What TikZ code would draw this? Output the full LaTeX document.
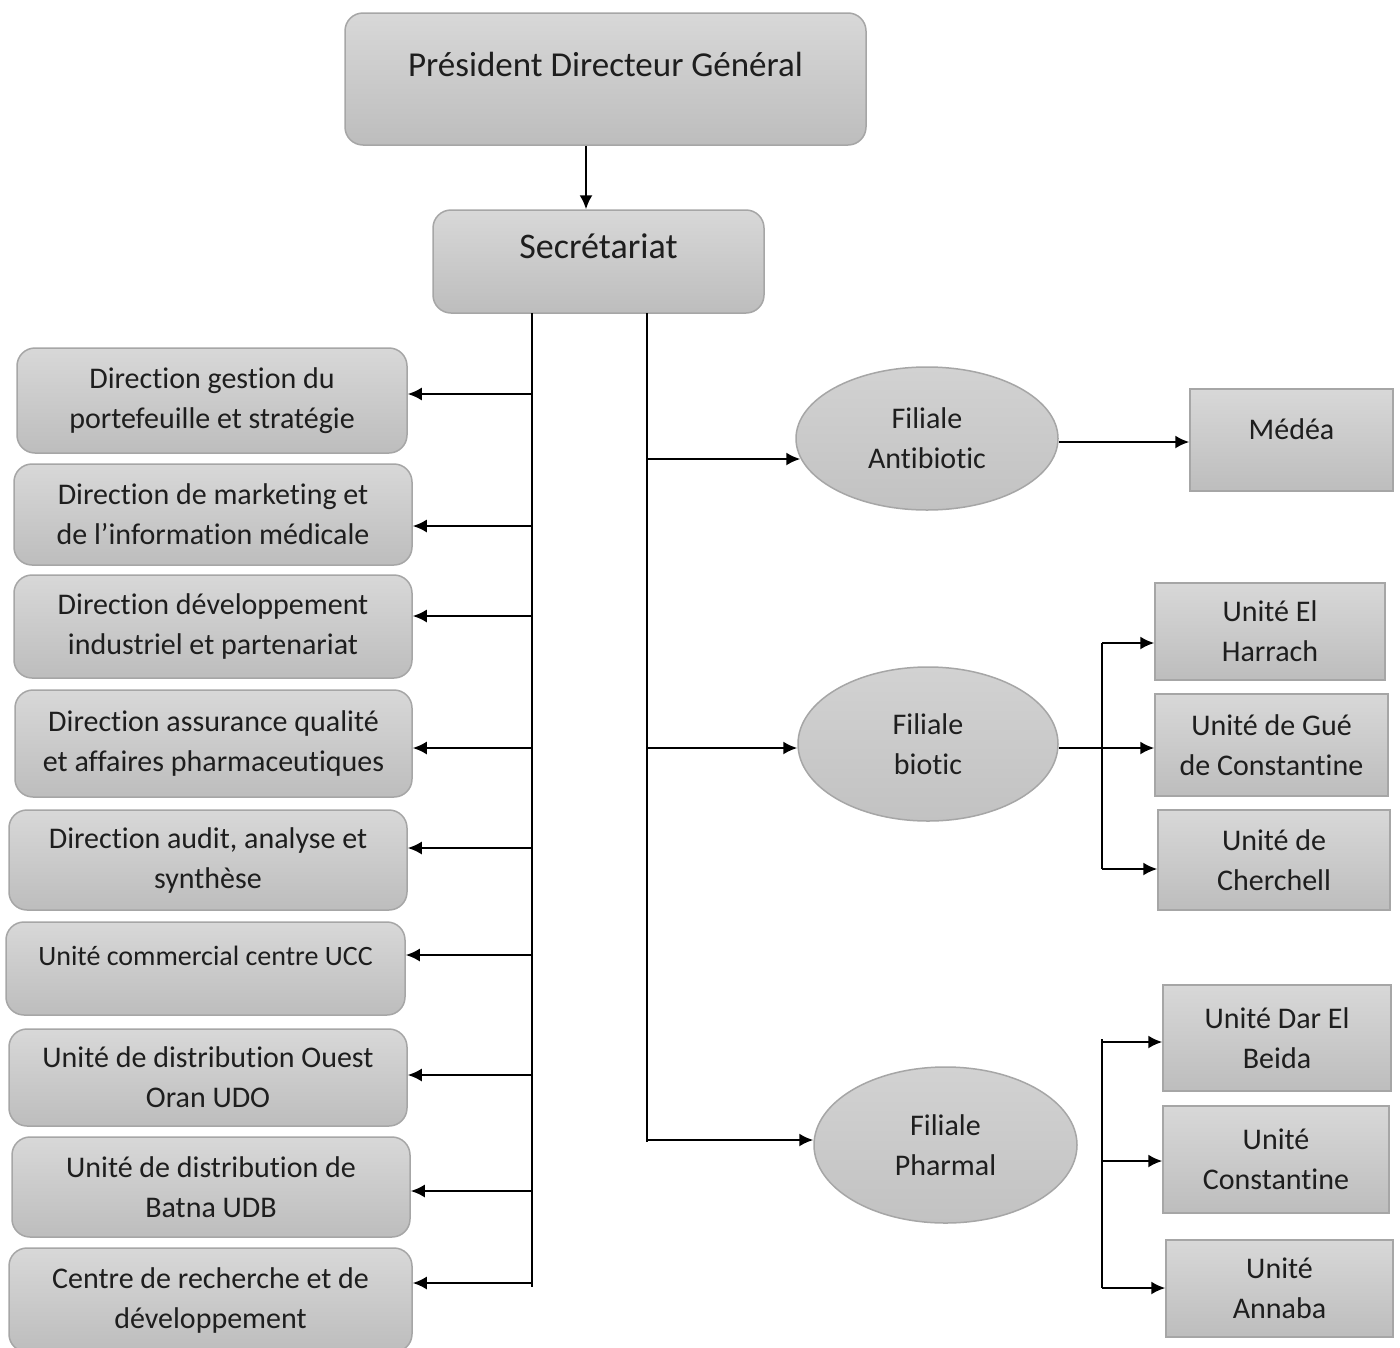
\documentclass[tikz,border=0pt]{standalone}
\usepackage{fontspec}
\setmainfont{Carlito}[Ligatures=NoCommon]
\usetikzlibrary{arrows.meta,shapes.geometric}
\definecolor{boxtop}{HTML}{D8D8D8}
\definecolor{boxbot}{HTML}{BDBDBD}
\definecolor{elltop}{HTML}{D2D2D2}
\definecolor{ellbot}{HTML}{C2C2C2}
\definecolor{edge}{HTML}{A6A6A6}
\definecolor{txt}{HTML}{1E1E1E}
\tikzset{
  x=1pt, y=-1pt,
  base/.style={draw=edge, line width=1.5pt, top color=boxtop, bottom color=boxbot,
    text=txt, align=center, inner sep=3pt,
    font=\fontsize{30}{40}\selectfont},
  rbox/.style={base, rectangle, rounded corners=18pt},
  sbox/.style={base, rectangle},
  ell/.style={base, ellipse, top color=elltop, bottom color=ellbot, inner sep=0pt},
  sz/.style 2 args={minimum width=#1pt, minimum height=#2pt},
  arr/.style={line width=2pt, draw=black, -{Latex[length=14pt,width=13pt]}},
  ln/.style={line width=2pt, draw=black},
}
\begin{document}
\begin{tikzpicture}
\useasboundingbox (0,0) rectangle (1400,1347);
\clip (0,0) rectangle (1400,1347);
\fill[white] (0,0) rectangle (1400,1347);

% top
\node[rbox, sz={521}{132}, font=\fontsize{35}{42}\selectfont, text height=24pt, text depth=30pt] (pdg) at (605.5,79) {Président Directeur Général};
\node[rbox, sz={331}{103}, font=\fontsize{36}{42}\selectfont, text height=24pt, text depth=30pt] (secr) at (598.5,261.5) {Secrétariat};
\draw[arr] (pdg.south -| 586,0) -- (secr.north -| 586,0);

% left column
\node[rbox, sz={390}{105}] (b1) at (212,400.5) {Direction gestion du\\portefeuille et stratégie};
\node[rbox, sz={398}{101}] (b2) at (213,514.5) {Direction de marketing et\\de l’information médicale};
\node[rbox, sz={398}{103}] (b3) at (213,626.5) {Direction développement\\industriel et partenariat};
\node[rbox, sz={397}{107}] (b4) at (213.5,743.5) {Direction assurance qualité\\et affaires pharmaceutiques};
\node[rbox, sz={398}{100}] (b5) at (208,860) {Direction audit, analyse et\\synthèse};
\node[rbox, sz={399}{93}, font=\fontsize{28}{36}\selectfont, text height=19pt, text depth=25pt] (b6) at (205.5,968.5) {Unité commercial centre UCC};
\node[rbox, sz={398}{97}] (b7) at (208,1077.5) {Unité de distribution Ouest\\Oran UDO};
\node[rbox, sz={398}{100}] (b8) at (211,1187) {Unité de distribution de\\Batna UDB};
\node[rbox, sz={403}{104}] (b9) at (210.5,1300) {Centre de recherche et de\\développement};

\coordinate (lt) at (532,313);
\coordinate (lb) at (532,1287);
\draw[ln] (lt) -- (lb);
\draw[arr] (lt |- 0,394) -- (b1.east |- 0,394);
\draw[arr] (lt |- 0,526) -- (b2.east |- 0,526);
\draw[arr] (lt |- 0,616) -- (b3.east |- 0,616);
\draw[arr] (lt |- 0,748) -- (b4.east |- 0,748);
\draw[arr] (lt |- 0,848) -- (b5.east |- 0,848);
\draw[arr] (lt |- 0,955) -- (b6.east |- 0,955);
\draw[arr] (lt |- 0,1075) -- (b7.east |- 0,1075);
\draw[arr] (lt |- 0,1191) -- (b8.east |- 0,1191);
\draw[arr] (lt |- 0,1283) -- (b9.east |- 0,1283);

% right column: subsidiaries
\node[ell, sz={262}{143}] (fa) at (927,438.5) {Filiale\\Antibiotic};
\node[ell, sz={260}{154}] (fb) at (928,744) {Filiale\\biotic};
\node[ell, sz={263}{156}] (fp) at (945.5,1145) {Filiale\\Pharmal};

\coordinate (rt) at (647,313);
\coordinate (rb) at (647,1142);
\draw[ln] (rt) -- (rb);
\draw[arr] (rt |- 0,459) -- ([xshift=5pt]fa.west |- 0,459);
\draw[arr] (rt |- 0,748) -- (fb.west |- 0,748);
\draw[arr] (rt |- 0,1140) -- (fp.west |- 0,1140);

% units
\node[sbox, sz={203}{102}, text height=21pt, text depth=23pt] (med) at (1291.5,440) {Médéa};
\draw[arr] (fa.east |- 0,442) -- (med.west |- 0,442);

\node[sbox, sz={230}{97}] (u1) at (1270,631.5) {Unité El\\Harrach};
\node[sbox, sz={233}{102}] (u2) at (1271.5,745) {Unité de Gué\\de Constantine};
\node[sbox, sz={232}{100}] (u3) at (1274,860) {Unité de\\Cherchell};
\coordinate (bt) at (1102,643);
\coordinate (bb) at (1102,869);
\draw[ln] (bt) -- (bb);
\draw[arr] (bt) -- (u1.west |- bt);
\draw[arr] (bb) -- (u3.west |- bb);
\draw[arr] (fb.east |- 0,748) -- (u2.west |- 0,748);

\node[sbox, sz={228}{106}] (u4) at (1277,1038) {Unité Dar El\\Beida};
\node[sbox, sz={226}{107}] (u5) at (1276,1159.5) {Unité\\Constantine};
\node[sbox, sz={227}{97}] (u6) at (1279.5,1288.5) {Unité\\Annaba};
\coordinate (pt) at (1102,1039);
\coordinate (pb) at (1102,1288);
\draw[ln] (pt) -- (pb);
\draw[arr] (pt |- 0,1042) -- (u4.west |- 0,1042);
\draw[arr] (pt |- 0,1161) -- (u5.west |- 0,1161);
\draw[arr] (pb) -- (u6.west |- pb);
\end{tikzpicture}
\end{document}
